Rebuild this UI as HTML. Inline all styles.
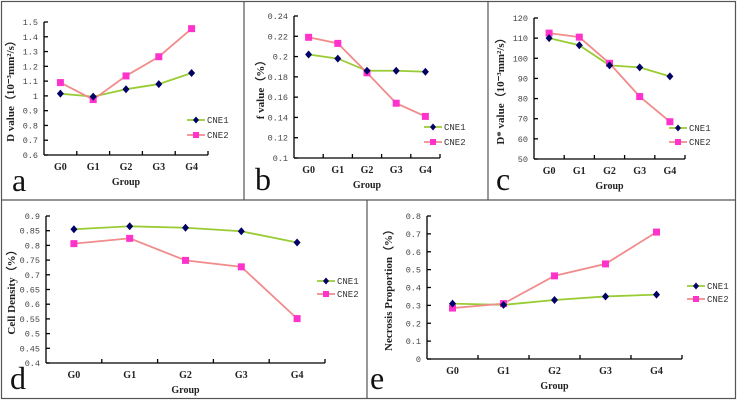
<!DOCTYPE html>
<html><head><meta charset="utf-8"><style>
html,body{margin:0;padding:0;background:#fff;width:737px;height:400px;overflow:hidden}
svg{display:block}
.tk{font-family:"Liberation Mono",monospace;font-size:8.5px;fill:#444}
.cat{font-family:"Liberation Serif",serif;font-size:10px;font-weight:bold;fill:#222}
.ttl{font-family:"Liberation Serif",serif;font-size:11px;font-weight:bold;fill:#222}
.lg{font-family:"Liberation Mono",monospace;font-size:9px;fill:#333}
.big{font-family:"Liberation Serif",serif;font-size:32px;fill:#111}
</style></head><body>
<svg id="chart" width="737" height="400" viewBox="0 0 737 400">
<g stroke="#555" stroke-width="1.2">
<rect x="1.5" y="1.5" width="734" height="397" fill="none"/>
<line x1="244" y1="1" x2="244" y2="200"/>
<line x1="488" y1="1" x2="488" y2="200"/>
<line x1="1" y1="200" x2="736" y2="200"/>
<line x1="367" y1="200" x2="367" y2="399"/>
</g>
</svg>
<script>
const categories = ["G0","G1","G2","G3","G4"];
const aCNE1 = [1.015,0.995,1.045,1.08,1.155];
const aCNE2 = [1.09,0.975,1.135,1.265,1.455];
const aTicks = ["0.6","0.7","0.8","0.9","1","1.1","1.2","1.3","1.4","1.5"];
const bCNE1 = [0.202,0.198,0.186,0.186,0.185];
const bCNE2 = [0.219,0.213,0.184,0.154,0.141];
const bTicks = ["0.1","0.12","0.14","0.16","0.18","0.2","0.22","0.24"];
const cCNE1 = [110,106.5,96.5,95.5,91];
const cCNE2 = [112.5,110.5,97.5,81,68.5];
const cTicks = ["50","60","70","80","90","100","110","120"];
const dCNE1 = [0.855,0.865,0.86,0.848,0.81];
const dCNE2 = [0.806,0.824,0.749,0.727,0.551];
const dTicks = ["0.4","0.45","0.5","0.55","0.6","0.65","0.7","0.75","0.8","0.85","0.9"];
const eCNE1 = [0.31,0.303,0.33,0.35,0.36];
const eCNE2 = [0.285,0.31,0.465,0.532,0.71];
const eTicks = ["0","0.1","0.2","0.3","0.4","0.5","0.6","0.7","0.8"];

const NS="http://www.w3.org/2000/svg";
const svg=document.getElementById('chart');
function mk(tag,attrs,parent,txt){const e=document.createElementNS(NS,tag);for(const k in attrs)e.setAttribute(k,attrs[k]);if(txt!==undefined)e.textContent=txt;(parent||svg).appendChild(e);return e;}

function panel(id,cfg,s1,s2,ticks){
  const g=mk('g',{});
  
  
  const min=parseFloat(ticks[0]),max=parseFloat(ticks[ticks.length-1]);
  const y=v=>cfg.y1-(v-min)/(max-min)*(cfg.y1-cfg.y0);
  const cw=(cfg.x1-cfg.x0)/categories.length;
  const x=i=>cfg.x0+cw*(i+0.5);
  const ax=mk('g',{stroke:'#000','stroke-width':1.3},g);
  
  
  mk('line',{x1:cfg.x0,y1:cfg.y0,x2:cfg.x0,y2:cfg.y1},ax);
  mk('line',{x1:cfg.x0,y1:cfg.y1,x2:cfg.x1,y2:cfg.y1},ax);
  ticks.forEach(t=>{const yy=y(parseFloat(t));
    mk('line',{x1:cfg.x0,y1:yy,x2:cfg.x0+4,y2:yy},ax);
    const tx=mk('text',{x:cfg.x0-6,y:yy+3,'text-anchor':'end',class:'tk'},g,t);
    
    
  });
  for(let i=1;i<=categories.length;i++){mk('line',{x1:cfg.x0+cw*i,y1:cfg.y1,x2:cfg.x0+cw*i,y2:cfg.y1-4},ax);}
  categories.forEach((c,i)=>{
    const t=mk('text',{x:x(i),y:cfg.y1+15,'text-anchor':'middle',class:'cat'},g,c);
    
    
  });
  const xt=mk('text',{x:(cfg.x0+cfg.x1)/2,y:cfg.y1+30,'text-anchor':'middle',class:'cat'},g,'Group');
  
  
  const yt=mk('text',{x:0,y:0,transform:`translate(${cfg.yt},${(cfg.y0+cfg.y1)/2}) rotate(-90)`,'text-anchor':'middle',class:'ttl'},g,cfg.ytitle);
  
  
  const lt=mk('text',{x:cfg.lx,y:cfg.ly,class:'big'},g,id);
  
  
  // series
  const p1=mk('polyline',{points:s1.map((v,i)=>x(i)+','+y(v)).join(' '),fill:'none',stroke:'#99cc33','stroke-width':1.8},g);
  
  
  const p2=mk('polyline',{points:s2.map((v,i)=>x(i)+','+y(v)).join(' '),fill:'none',stroke:'#f08c8c','stroke-width':1.8},g);
  
  
  s2.forEach((v,i)=>{const r=mk('rect',{x:x(i)-3.5,y:y(v)-3.5,width:7,height:7,fill:'#ff33cc'},g);
    
    });
  s1.forEach((v,i)=>{const d=mk('path',{d:`M${x(i)} ${y(v)-4}L${x(i)+3.5} ${y(v)}L${x(i)} ${y(v)+4}L${x(i)-3.5} ${y(v)}Z`,fill:'#000066'},g);
    
    });
  // legend
  const lg=mk('g',{},g);
  
  
  const L=cfg.lgx,ll=18;
  mk('line',{x1:L,y1:cfg.lgy1,x2:L+ll,y2:cfg.lgy1,stroke:'#99cc33','stroke-width':1.8},lg);
  mk('path',{d:`M${L+ll/2} ${cfg.lgy1-3.5}l3 3.5l-3 3.5l-3 -3.5Z`,fill:'#000066'},lg);
  const e1=mk('text',{x:L+ll+2,y:cfg.lgy1+3,class:'lg'},lg,'CNE1');
  
  
  mk('line',{x1:L,y1:cfg.lgy2,x2:L+ll,y2:cfg.lgy2,stroke:'#f08c8c','stroke-width':1.8},lg);
  mk('rect',{x:L+ll/2-3,y:cfg.lgy2-3,width:6,height:6,fill:'#ff33cc'},lg);
  const e2=mk('text',{x:L+ll+2,y:cfg.lgy2+3,class:'lg'},lg,'CNE2');
  
  
}
panel('a',{x0:44,x1:208,y0:22,y1:155,yt:14,ytitle:'D value（10⁻³mm²/s）',lx:12,ly:191,lgx:187,lgy1:120,lgy2:135},aCNE1,aCNE2,aTicks);
panel('b',{x0:294,x1:440,y0:16,y1:158,yt:264,ytitle:'f value（%）',lx:255,ly:190,lgx:424,lgy1:127,lgy2:142},bCNE1,bCNE2,bTicks);
panel('c',{x0:534,x1:685,y0:18,y1:159,yt:504,ytitle:'D* value（10⁻³mm²/s）',lx:496,ly:190,lgx:669,lgy1:128,lgy2:142},cCNE1,cCNE2,cTicks);
panel('d',{x0:46,x1:325,y0:216,y1:363,yt:15,ytitle:'Cell Density（%）',lx:10,ly:389,lgx:317,lgy1:281,lgy2:294},dCNE1,dCNE2,dTicks);
panel('e',{x0:427,x1:682,y0:216,y1:359,yt:392,ytitle:'Necrosis Proportion（%）',lx:370,ly:389,lgx:687,lgy1:286,lgy2:299},eCNE1,eCNE2,eTicks);
</script>
</body></html>
